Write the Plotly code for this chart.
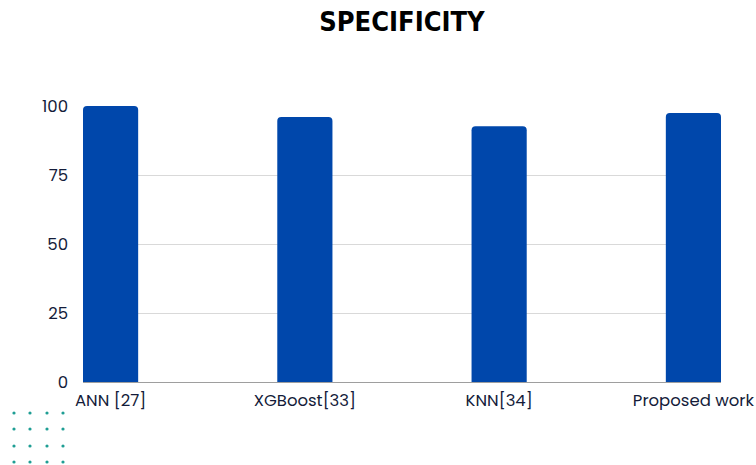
import plotly.graph_objects as go

categories = ["ANN [27]", "XGBoost[33]", "KNN[34]", "Proposed work"]
values = [100, 96, 92.7, 97.5]
y_ticks = [0, 25, 50, 75, 100]

BAR_COLOR = "#0047ab"
TEXT_COLOR = "#141c3a"

W, H = 756, 465
L, R, T, B = 83, 35, 106, 83
bw = 0.284

fig = go.Figure(go.Bar(x=list(range(len(categories))), y=values, width=bw,
                       marker=dict(color=BAR_COLOR, line=dict(width=0))))

# decorative dot grid (bottom-left)
dot_px = [14, 30, 47, 63]
dot_py = [413, 429, 446, 462]
pw, ph = W - L - R, H - T - B
shapes = []
for px in dot_px:
    for py in dot_py:
        shapes.append(dict(type="circle", xref="paper", yref="paper",
                           xsizemode="pixel", ysizemode="pixel",
                           xanchor=(px - L) / pw, yanchor=(H - B - py) / ph,
                           x0=-1.6, x1=1.6, y0=-1.6, y1=1.6,
                           fillcolor="#1f9e94", line=dict(width=0)))

fig.update_layout(
    width=W, height=H,
    margin=dict(l=L, r=R, t=T, b=B, autoexpand=False),
    paper_bgcolor="white", plot_bgcolor="white",
    barcornerradius=4,
    showlegend=False,
    title=dict(text="SPECIFICITY", x=0.5, xref="paper", xanchor="center",
               y=1 - 22 / H, yanchor="middle",
               font=dict(family="Liberation Sans Narrow, DejaVu Sans Condensed, Arial Narrow, sans-serif",
                         size=27, color="#000000", weight="bold")),
    font=dict(family="Poppins, Lato, Inter, sans-serif", color=TEXT_COLOR, size=16.5),
    xaxis=dict(range=[-bw / 2, len(categories) - 1 + bw / 2],
               tickmode="array", tickvals=list(range(len(categories))), ticktext=categories,
               showgrid=False, zeroline=False, showline=True, linecolor="#9e9e9e", linewidth=1,
               ticks="", ticklabelstandoff=3, ticklabeloverflow="allow", automargin=False,
               tickfont=dict(size=16.5, color=TEXT_COLOR), fixedrange=True),
    yaxis=dict(range=[0, 100], tickvals=y_ticks, showgrid=True, gridcolor="#d9d9d9", gridwidth=1,
               zeroline=False, showline=False, ticks="", ticklabelstandoff=14, automargin=False,
               tickfont=dict(size=16.5, color=TEXT_COLOR), fixedrange=True),
    shapes=shapes,
)

fig.write_html("out.html")
